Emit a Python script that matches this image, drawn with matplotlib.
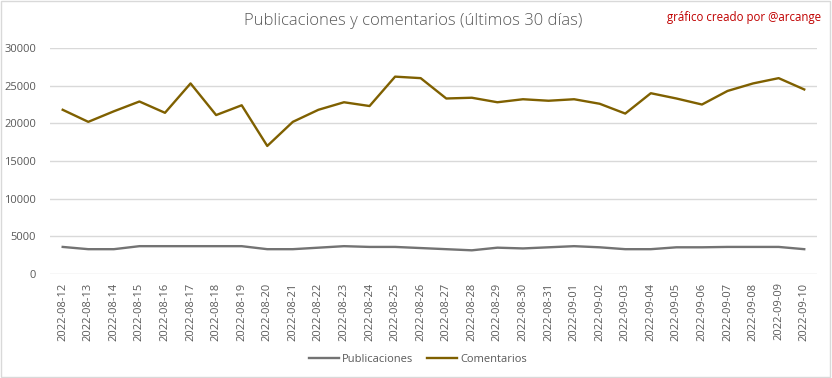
import matplotlib
matplotlib.use("Agg")
import matplotlib.pyplot as plt
from matplotlib.patches import Rectangle

dates = ["2022-08-12", "2022-08-13", "2022-08-14", "2022-08-15", "2022-08-16", "2022-08-17",
         "2022-08-18", "2022-08-19", "2022-08-20", "2022-08-21", "2022-08-22", "2022-08-23",
         "2022-08-24", "2022-08-25", "2022-08-26", "2022-08-27", "2022-08-28", "2022-08-29",
         "2022-08-30", "2022-08-31", "2022-09-01", "2022-09-02", "2022-09-03", "2022-09-04",
         "2022-09-05", "2022-09-06", "2022-09-07", "2022-09-08", "2022-09-09", "2022-09-10"]
publicaciones = [3600, 3300, 3300, 3700, 3700, 3700, 3700, 3700, 3300, 3300, 3500, 3700,
                 3600, 3600, 3450, 3300, 3150, 3500, 3400, 3550, 3700, 3550, 3300, 3300,
                 3550, 3550, 3600, 3600, 3600, 3300]
comentarios = [21800, 20200, 21600, 22900, 21400, 25300, 21100, 22400, 17000, 20200, 21800, 22800,
               22300, 26200, 26000, 23300, 23400, 22800, 23200, 23000, 23200, 22600, 21300, 24000,
               23300, 22500, 24300, 25300, 26000, 24500]
yticks = [0, 5000, 10000, 15000, 20000, 25000, 30000]

plt.rcParams['font.family'] = ['Open Sans', 'DejaVu Sans']

fig = plt.figure(figsize=(8.32, 3.78), dpi=100)
fig.patches.append(Rectangle((0.001, 0.002), 0.997, 0.995, transform=fig.transFigure,
                             fill=False, edgecolor='#D9D9D9', linewidth=1))
ax = fig.add_axes([0.060, 0.275, 0.922, 0.598])

x = list(range(len(dates)))
ax.plot(x, publicaciones, color='#737373', linewidth=1.7, label='Publicaciones')
ax.plot(x, comentarios, color='#7F6000', linewidth=1.7, label='Comentarios')

ax.set_xlim(-0.5, len(dates) - 0.5)
ax.set_ylim(0, 30000)
ax.set_yticks(yticks)
ax.set_yticklabels([str(v) for v in yticks])
ax.set_xticks(x)
ax.set_xticklabels(dates, rotation=90)
ax.grid(axis='y', color='#D9D9D9', linewidth=1)
ax.set_axisbelow(True)
for s in ax.spines.values():
    s.set_visible(False)
ax.tick_params(axis='both', length=0, labelsize=8, labelcolor='#595959')
ax.tick_params(axis='y', pad=10)
ax.tick_params(axis='x', pad=6)

fig.text(0.497, 0.945, "Publicaciones y comentarios (últimos 30 días)", ha='center', va='center',
         fontsize=12, color='#595959', fontweight='light')
fig.text(0.987, 0.955, "gráfico creado por @arcange", ha='right', va='center',
         fontsize=8.3, color='#C00000')

fig.legend(loc='center', bbox_to_anchor=(0.502, 0.05), ncol=2, frameon=False,
           fontsize=8, labelcolor='#595959', handlelength=2.7, columnspacing=1.2, handletextpad=0.3)

fig.savefig("out.png", dpi=100)
